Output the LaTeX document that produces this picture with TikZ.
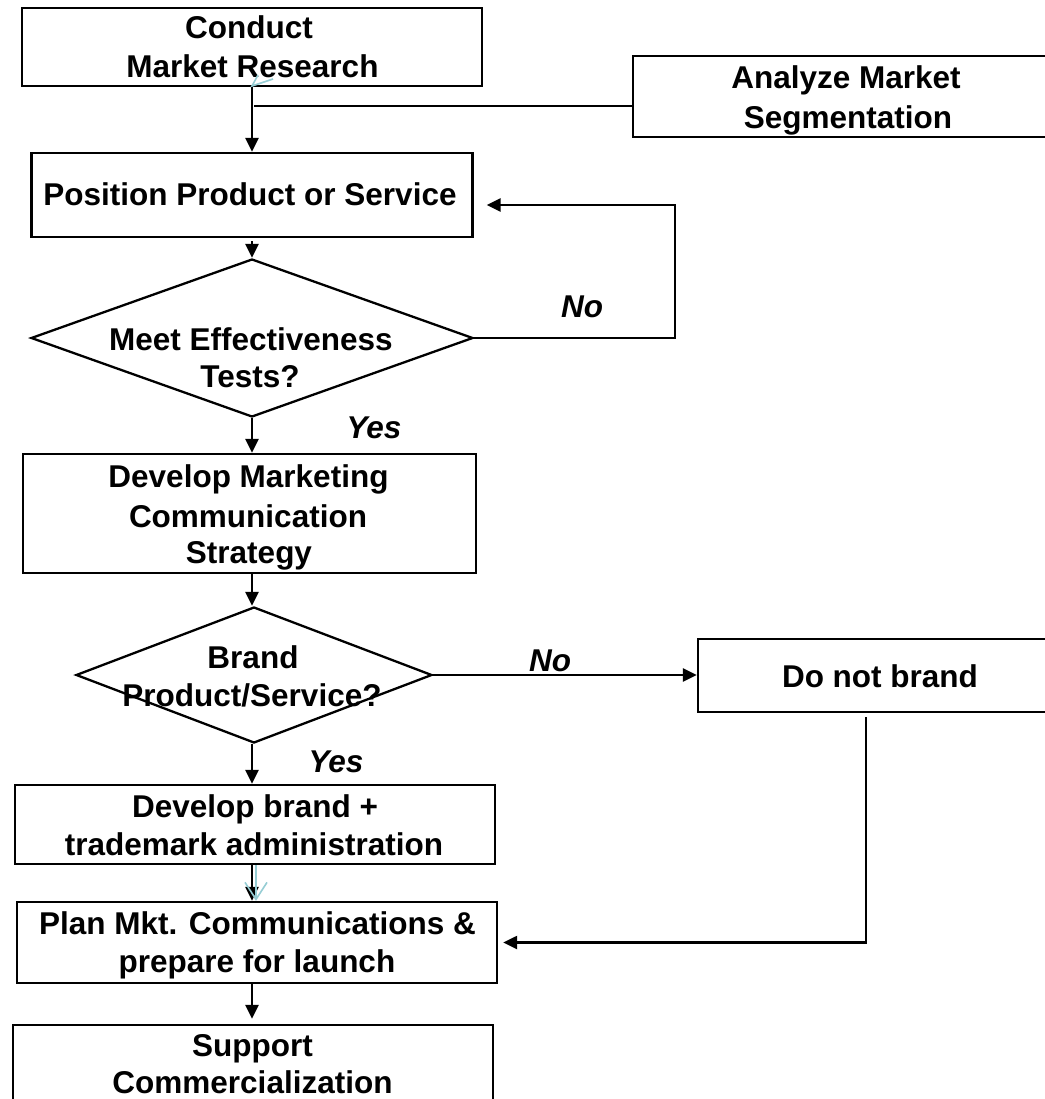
\documentclass[tikz,border=0pt]{standalone}
\usepackage{fontspec}
\setmainfont{Liberation Sans}
\usetikzlibrary{arrows.meta,shapes.geometric}
\definecolor{lightcyan}{RGB}{150,205,212}
\begin{document}
\begin{tikzpicture}[x=1pt,y=-1pt,
  box/.style={draw=black,line width=2.3pt,inner sep=0pt,rectangle},
  dia/.style={draw=black,line width=2.3pt,inner sep=0pt,diamond},
  txt/.style={font=\fontsize{31.5}{38}\selectfont\bfseries,anchor=base,inner sep=0pt},
  lbl/.style={font=\fontsize{31.5}{38}\selectfont\bfseries\itshape,anchor=base,inner sep=0pt},
  conn/.style={line width=2.3pt},
  arr/.style={conn,-{Triangle[length=14pt,width=13pt]}},
  cyanln/.style={draw=lightcyan,line width=1.6pt}]
\useasboundingbox (0,0) rectangle (1044,1099);
% shapes
\node[box,minimum width=460pt,minimum height=78pt] (cmr) at (252,47) {};
\node[box,minimum width=434pt,minimum height=81pt] (ams) at (850,96.5) {};
\node[box,minimum width=441pt,minimum height=84pt] (pps) at (252,195) {};
\node[dia,minimum width=442pt,minimum height=158pt] (d1) at (252,338) {};
\node[box,minimum width=453pt,minimum height=119pt] (dmc) at (249.5,513.5) {};
\node[dia,minimum width=356pt,minimum height=136pt] (d2) at (254,675) {};
\node[box,minimum width=364pt,minimum height=73pt] (dnb) at (880,675.5) {};
\node[box,minimum width=480pt,minimum height=79pt] (dbt) at (255,824.5) {};
\node[box,minimum width=480pt,minimum height=81pt] (plan) at (257,942.5) {};
\node[box,minimum width=480pt,minimum height=90pt] (sc) at (253,1070) {};
% texts
\node[txt] (t1a) at (249,39) {Conduct};
\node[txt] (t1b) at (252.5,78) {Market Research};
\node[txt] (t2a) at (846,89) {Analyze Market};
\node[txt] (t2b) at (848,128.6) {Segmentation};
\node[txt] (t3) at (250,206) {Position Product or Service};
\node[txt] (t4a) at (251,350) {Meet Effectiveness};
\node[txt] (t4b) at (250,387) {Tests?};
\node[txt] (t5a) at (248.5,487) {Develop Marketing};
\node[txt] (t5b) at (248,527) {Communication};
\node[txt] (t5c) at (249,563) {Strategy};
\node[txt] (t6a) at (253,668) {Brand};
\node[txt] (t6b) at (252,706) {Product/Service?};
\node[txt] (t7) at (880,687) {Do not brand};
\node[txt] (t8a) at (255,817) {Develop brand +};
\node[txt] (t8b) at (254,855) {trademark administration};
\node[txt] (t9a) at (257.5,934) {Plan Mkt. Communications \&};
\node[txt] (t9b) at (257,972) {prepare for launch};
\node[txt] (t10a) at (252.5,1056) {Support};
\node[txt] (t10b) at (252.5,1093) {Commercialization};
\node[lbl] (no1) at (582,317) {No};
\node[lbl] (yes1) at (374,438) {Yes};
\node[lbl] (no2) at (550,671) {No};
\node[lbl] (yes2) at (336,772) {Yes};
% connectors
\coordinate (j1) at (254,106);
\coordinate (r1) at (675,205);
\coordinate (c2) at (866,717);
\draw[arr] (cmr.south) -- (pps.north);
\draw[conn] (j1) -- (j1 -| ams.west);
\draw[arr] ([yshift=-3pt]pps.south) -- (d1.north);
\draw[arr,shorten >=13pt] (d1.east) -| (r1) -- (r1 -| pps.east);
\draw[arr] (d1.south) -- (d1.south |- dmc.north);
\draw[arr] (d1.south |- dmc.south) -- (d2.north -| d1.south);
\draw[arr] (d2.east) -- (d2.east -| dnb.west);
\draw[arr] (d2.south -| d1.south) -- (d1.south |- dbt.north);
\draw[arr] (d1.south |- dbt.south) -- (d1.south |- plan.north);
\draw[arr,shorten >=5pt] (c2) |- (plan.east);
\draw[arr,shorten >=5pt] (d1.south |- plan.south) -- (d1.south |- sc.north);
% light cyan marks
\draw[cyanln,-{Straight Barb[length=17pt,width=22pt]}] ([xshift=4pt]d1.south |- dbt.south) -- ([xshift=4pt]d1.south |- plan.north);
\draw[cyanln] (258,75) -- (252,86) -- (273,79);
\end{tikzpicture}
\end{document}
